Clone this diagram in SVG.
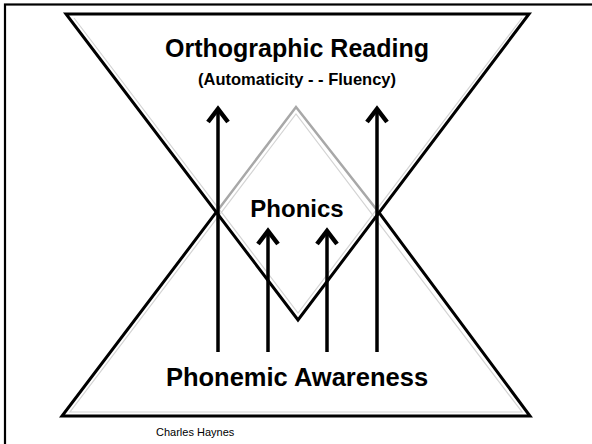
<svg xmlns="http://www.w3.org/2000/svg" width="592" height="444" viewBox="0 0 592 444">
  <defs>
    <style>
      .edge { fill: none; stroke: #000; stroke-width: 3; stroke-linejoin: miter; }
      .grey { fill: none; stroke: #a8a8a8; stroke-width: 2.5; }
      .shadow { fill: none; stroke: #d4d4d4; stroke-width: 1.2; }
      .shaft { fill: none; stroke: #000; stroke-width: 3.5; }
      .head { fill: none; stroke: #000; stroke-width: 4.5; stroke-linejoin: miter; stroke-linecap: butt; }
      .title { font-family: "Liberation Sans", Arial, sans-serif; font-weight: bold; fill: #000; text-anchor: middle; }
      .credit { font-family: "Liberation Sans", Arial, sans-serif; fill: #000; font-size: 11px; }
    </style>
  </defs>
  <rect x="0" y="0" width="592" height="444" fill="#fff"/>
  <!-- page frame -->
  <rect x="5" y="4.5" width="620" height="470" fill="none" stroke="#000" stroke-width="2.2"/>

  <!-- Upward triangle: Phonemic Awareness -->
  <g id="phonemic-awareness">
    <polygon class="shadow" points="70,412 522,412 296,114"/>
    <polyline class="grey" points="216.3,212.2 296,107 378.7,212.2"/>
    <polyline class="edge" points="216.3,212.2 62,416 530,416 378.7,212.2"/>
    <text class="title" x="297" y="386" font-size="25.5">Phonemic Awareness</text>
  </g>

  <!-- Downward triangle: Orthographic Reading -->
  <g id="orthographic-reading">
    <polyline class="shadow" points="74,18 298,313 522,18"/>
    <polygon class="edge" points="66,14 529,14 298,320"/>
    <text class="title" x="297" y="57" font-size="25">Orthographic Reading</text>
    <text class="title" x="297" y="85" font-size="16.5">(Automaticity - - Fluency)</text>
  </g>

  <!-- Phonics diamond -->
  <g id="phonics">
    <text class="title" x="297" y="217" font-size="24">Phonics</text>
  </g>

  <!-- connectors: arrows -->
  <g id="connectors">
    <line class="shaft" x1="218" y1="352" x2="218" y2="110"/>
    <polyline class="head" points="208,122 218,109 228,122"/>
    <line class="shaft" x1="377" y1="352" x2="377" y2="110"/>
    <polyline class="head" points="367,122 377,109 387,122"/>
    <line class="shaft" x1="268" y1="352" x2="268" y2="232"/>
    <polyline class="head" points="258,244 268,231 278,244"/>
    <line class="shaft" x1="327" y1="352" x2="327" y2="232"/>
    <polyline class="head" points="317,244 327,231 337,244"/>
  </g>

  <text class="credit" x="156" y="436">Charles Haynes</text>
</svg>
